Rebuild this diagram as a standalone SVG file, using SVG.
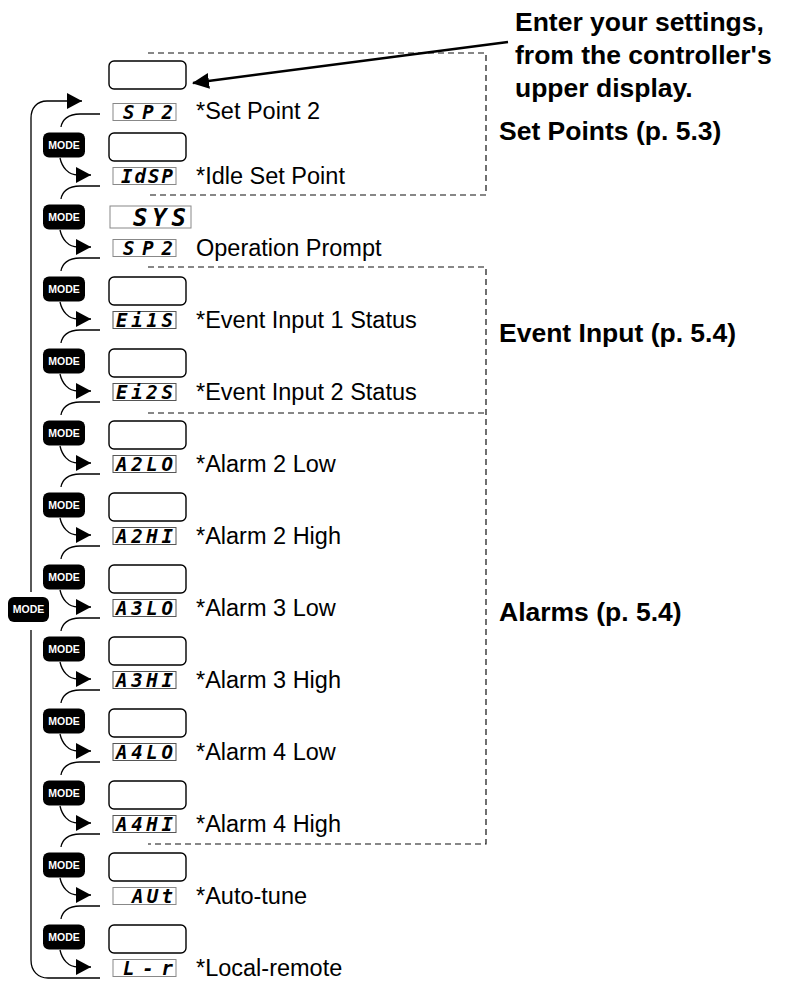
<svg xmlns="http://www.w3.org/2000/svg" width="786" height="982" viewBox="0 0 786 982">
<defs>
<marker id="ah" markerUnits="userSpaceOnUse" markerWidth="15" markerHeight="16" viewBox="0 0 15 16" refX="15" refY="8" orient="auto"><path d="M0,0 L15,8 L0,16 Z" fill="#000"/></marker>
<marker id="ahp" markerUnits="userSpaceOnUse" markerWidth="17" markerHeight="16" viewBox="0 0 17 16" refX="16" refY="8" orient="auto"><path d="M0,0 L17,8 L0,16 Z" fill="#000"/></marker>
</defs>
<style>
.box{fill:#fff;stroke:#000;stroke-width:1.4}
.strip{fill:#fff;stroke:#888;stroke-width:1}
.strip2{fill:#fff;stroke:#555;stroke-width:1}
.seg{font-family:"DejaVu Sans Mono",monospace;font-weight:bold;font-style:oblique;font-size:19px;fill:#000}
.lbl{font-family:"Liberation Sans",Arial,sans-serif;font-size:23.5px;fill:#000}
.hd{font-family:"Liberation Sans",Arial,sans-serif;font-size:26.5px;font-weight:bold;fill:#000}
.mode rect{fill:#000}
.mode text{font-family:"Liberation Sans",Arial,sans-serif;font-size:10.5px;font-weight:bold;fill:#fff;text-anchor:middle}
.ln{fill:none;stroke:#000;stroke-width:1.3}
.dash{fill:none;stroke:#111;stroke-width:1.2;stroke-dasharray:6 4}
</style>
<rect width="786" height="982" fill="#fff"/>

<g id="sections">
<path class="dash" d="M148,53 H486 V195 H148"/>
<path class="dash" d="M148,267 H486 V844 H148 M148,413 H486"/>
<text class="hd" x="499" y="140">Set Points (p. 5.3)</text>
<text class="hd" x="499" y="342">Event Input (p. 5.4)</text>
<text class="hd" x="499" y="621">Alarms (p. 5.4)</text>
</g>

<g id="note">
<text class="hd" x="515" y="31">Enter your settings,</text>
<text class="hd" x="515" y="64">from the controller's</text>
<text class="hd" x="515" y="97">upper display.</text>
</g>

<g id="row-sp2">
<rect class="box" x="109" y="61" width="77" height="28" rx="5"/>
<rect class="strip" x="113" y="103.5" width="63" height="17"/>
<text class="seg" x="123" y="119" textLength="50" lengthAdjust="spacing">SP2</text>
<text class="lbl" x="196" y="119">*Set Point 2</text>
</g>
<g id="row-idsp">
<rect class="box" x="109" y="133" width="77" height="28" rx="5"/>
<rect class="strip" x="113" y="167.5" width="63" height="17"/>
<text class="seg" x="121" y="183" textLength="52" lengthAdjust="spacing">IdSP</text>
<text class="lbl" x="196" y="184">*Idle Set Point</text>
</g>
<g id="row-sys">
<rect class="strip" x="110" y="206" width="81" height="22"/>
<text class="seg" x="133" y="225.5" style="font-size:24px" textLength="53" lengthAdjust="spacing">SYS</text>
<rect class="strip" x="113" y="239.5" width="63" height="17"/>
<text class="seg" x="123" y="255" textLength="50" lengthAdjust="spacing">SP2</text>
<text class="lbl" x="196" y="256">Operation Prompt</text>
</g>
<g id="row-ei1s">
<rect class="box" x="109" y="277" width="77" height="28" rx="5"/>
<rect class="strip2" x="113" y="311.5" width="63" height="17"/>
<text class="seg" x="116" y="327" textLength="57" lengthAdjust="spacing">Ei1S</text>
<text class="lbl" x="196" y="328">*Event Input 1 Status</text>
</g>
<g id="row-ei2s">
<rect class="box" x="109" y="349" width="77" height="28" rx="5"/>
<rect class="strip2" x="113" y="383.5" width="63" height="17"/>
<text class="seg" x="116" y="399" textLength="57" lengthAdjust="spacing">Ei2S</text>
<text class="lbl" x="196" y="400">*Event Input 2 Status</text>
</g>
<g id="row-a2lo">
<rect class="box" x="109" y="421" width="77" height="28" rx="5"/>
<rect class="strip2" x="113" y="455.5" width="63" height="17"/>
<text class="seg" x="116" y="471" textLength="57" lengthAdjust="spacing">A2LO</text>
<text class="lbl" x="196" y="472">*Alarm 2 Low</text>
</g>
<g id="row-a2hi">
<rect class="box" x="109" y="493" width="77" height="28" rx="5"/>
<rect class="strip2" x="113" y="527.5" width="63" height="17"/>
<text class="seg" x="116" y="543" textLength="57" lengthAdjust="spacing">A2HI</text>
<text class="lbl" x="196" y="544">*Alarm 2 High</text>
</g>
<g id="row-a3lo">
<rect class="box" x="109" y="565" width="77" height="28" rx="5"/>
<rect class="strip2" x="113" y="599.5" width="63" height="17"/>
<text class="seg" x="116" y="615" textLength="57" lengthAdjust="spacing">A3LO</text>
<text class="lbl" x="196" y="616">*Alarm 3 Low</text>
</g>
<g id="row-a3hi">
<rect class="box" x="109" y="637" width="77" height="28" rx="5"/>
<rect class="strip2" x="113" y="671.5" width="63" height="17"/>
<text class="seg" x="116" y="687" textLength="57" lengthAdjust="spacing">A3HI</text>
<text class="lbl" x="196" y="688">*Alarm 3 High</text>
</g>
<g id="row-a4lo">
<rect class="box" x="109" y="709" width="77" height="28" rx="5"/>
<rect class="strip2" x="113" y="743.5" width="63" height="17"/>
<text class="seg" x="116" y="759" textLength="57" lengthAdjust="spacing">A4LO</text>
<text class="lbl" x="196" y="760">*Alarm 4 Low</text>
</g>
<g id="row-a4hi">
<rect class="box" x="109" y="781" width="77" height="28" rx="5"/>
<rect class="strip2" x="113" y="815.5" width="63" height="17"/>
<text class="seg" x="116" y="831" textLength="57" lengthAdjust="spacing">A4HI</text>
<text class="lbl" x="196" y="832">*Alarm 4 High</text>
</g>
<g id="row-aut">
<rect class="box" x="109" y="853" width="77" height="28" rx="5"/>
<rect class="strip" x="113" y="887.5" width="63" height="17"/>
<text class="seg" x="132" y="903" textLength="41" lengthAdjust="spacing">AUt</text>
<text class="lbl" x="196" y="904">*Auto-tune</text>
</g>
<g id="row-lr">
<rect class="box" x="109" y="925" width="77" height="28" rx="5"/>
<rect class="strip" x="113" y="959.5" width="63" height="17"/>
<text class="seg" x="123" y="975" textLength="50" lengthAdjust="spacing">L-r</text>
<text class="lbl" x="196" y="976">*Local-remote</text>
</g>

<g id="mode-1" class="mode"><rect x="43" y="132.5" width="42" height="25" rx="6"/><text x="64" y="148.8">MODE</text></g>
<g id="mode-2" class="mode"><rect x="43" y="204.5" width="42" height="25" rx="6"/><text x="64" y="220.8">MODE</text></g>
<g id="mode-3" class="mode"><rect x="43" y="276.5" width="42" height="25" rx="6"/><text x="64" y="292.8">MODE</text></g>
<g id="mode-4" class="mode"><rect x="43" y="348.5" width="42" height="25" rx="6"/><text x="64" y="364.8">MODE</text></g>
<g id="mode-5" class="mode"><rect x="43" y="420.5" width="42" height="25" rx="6"/><text x="64" y="436.8">MODE</text></g>
<g id="mode-6" class="mode"><rect x="43" y="492.5" width="42" height="25" rx="6"/><text x="64" y="508.8">MODE</text></g>
<g id="mode-7" class="mode"><rect x="43" y="564.5" width="42" height="25" rx="6"/><text x="64" y="580.8">MODE</text></g>
<g id="mode-8" class="mode"><rect x="43" y="636.5" width="42" height="25" rx="6"/><text x="64" y="652.8">MODE</text></g>
<g id="mode-9" class="mode"><rect x="43" y="708.5" width="42" height="25" rx="6"/><text x="64" y="724.8">MODE</text></g>
<g id="mode-10" class="mode"><rect x="43" y="780.5" width="42" height="25" rx="6"/><text x="64" y="796.8">MODE</text></g>
<g id="mode-11" class="mode"><rect x="43" y="852.5" width="42" height="25" rx="6"/><text x="64" y="868.8">MODE</text></g>
<g id="mode-12" class="mode"><rect x="43" y="924.5" width="42" height="25" rx="6"/><text x="64" y="940.8">MODE</text></g>
<g id="mode-loop" class="mode"><rect x="8" y="597" width="41" height="25" rx="6"/><text x="28.5" y="613.3">MODE</text></g>

<g id="connectors">
<path class="ln" d="M100,114 L80,114 C68,114 62,120 61,127"/>
<path class="ln" d="M100,186 L80,186 C68,186 62,192 61,199"/>
<path class="ln" d="M100,258 L80,258 C68,258 62,264 61,271"/>
<path class="ln" d="M100,330 L80,330 C68,330 62,336 61,343"/>
<path class="ln" d="M100,402 L80,402 C68,402 62,408 61,415"/>
<path class="ln" d="M100,474 L80,474 C68,474 62,480 61,487"/>
<path class="ln" d="M100,546 L80,546 C68,546 62,552 61,559"/>
<path class="ln" d="M100,618 L80,618 C68,618 62,624 61,631"/>
<path class="ln" d="M100,690 L80,690 C68,690 62,696 61,703"/>
<path class="ln" d="M100,762 L80,762 C68,762 62,768 61,775"/>
<path class="ln" d="M100,834 L80,834 C68,834 62,840 61,847"/>
<path class="ln" d="M100,906 L80,906 C68,906 62,912 61,919"/>
<path class="ln" marker-end="url(#ah)" d="M60,158 C62,167 68,175 78,175 L91,175"/>
<path class="ln" marker-end="url(#ah)" d="M60,230 C62,239 68,247 78,247 L91,247"/>
<path class="ln" marker-end="url(#ah)" d="M60,302 C62,311 68,319 78,319 L91,319"/>
<path class="ln" marker-end="url(#ah)" d="M60,374 C62,383 68,391 78,391 L91,391"/>
<path class="ln" marker-end="url(#ah)" d="M60,446 C62,455 68,463 78,463 L91,463"/>
<path class="ln" marker-end="url(#ah)" d="M60,518 C62,527 68,535 78,535 L91,535"/>
<path class="ln" marker-end="url(#ah)" d="M60,590 C62,599 68,607 78,607 L91,607"/>
<path class="ln" marker-end="url(#ah)" d="M60,662 C62,671 68,679 78,679 L91,679"/>
<path class="ln" marker-end="url(#ah)" d="M60,734 C62,743 68,751 78,751 L91,751"/>
<path class="ln" marker-end="url(#ah)" d="M60,806 C62,815 68,823 78,823 L91,823"/>
<path class="ln" marker-end="url(#ah)" d="M60,878 C62,887 68,895 78,895 L91,895"/>
<path class="ln" marker-end="url(#ah)" d="M60,950 C62,959 68,967 78,967 L91,967"/>
<path class="ln" d="M100,978 L48,978 C38,978 31,971 31,960 L31,630"/>
<path class="ln" marker-end="url(#ah)" d="M31,592 L31,118 C31,108 37,101 47,101 L82,101"/>
<path fill="none" stroke="#000" stroke-width="2.6" marker-end="url(#ahp)" d="M508,42 L193,83"/>
</g>
</svg>
